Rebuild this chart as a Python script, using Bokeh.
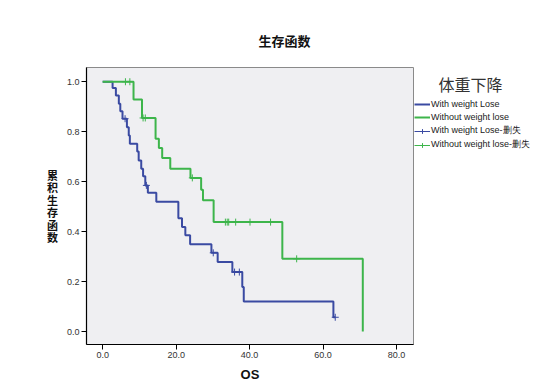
from bokeh.plotting import figure
from bokeh.layouts import row
from bokeh.models import Range1d, Legend, LegendItem, FixedTicker, NumeralTickFormatter
from bokeh.core.properties import value
from bokeh.embed import file_html
from bokeh.resources import INLINE

# Kaplan-Meier steps: with weight loss
lose_t = [0.0, 2.7, 3.6, 4.4, 4.8, 5.4, 6.6, 7.1, 7.4, 9.4, 9.8, 10.5, 11.0, 11.6, 12.3,
          14.6, 20.6, 21.6, 22.5, 23.8, 29.6, 31.3, 35.3, 38.0, 38.4, 62.8, 63.3]
lose_s = [1.0, 0.975, 0.945, 0.912, 0.882, 0.852, 0.818, 0.785, 0.752, 0.721, 0.685, 0.652,
          0.622, 0.585, 0.556, 0.520, 0.453, 0.418, 0.385, 0.349, 0.315, 0.278, 0.238,
          0.178, 0.120, 0.057, 0.057]
lose_cens_t = [6.1, 11.9, 30.1, 35.9, 37.2, 63.3]
lose_cens_s = [0.852, 0.585, 0.315, 0.238, 0.238, 0.057]

# Kaplan-Meier steps: without weight loss
keep_t = [0.0, 8.4, 10.7, 14.4, 15.3, 16.2, 18.4, 23.9, 26.8, 27.3, 30.2, 48.9, 70.8]
keep_s = [1.0, 0.929, 0.855, 0.772, 0.735, 0.695, 0.652, 0.615, 0.568, 0.526, 0.438, 0.291, 0.0]
keep_cens_t = [6.2, 7.4, 11.0, 11.6, 24.4, 33.4, 33.9, 34.3, 36.2, 40.1, 45.7, 52.8]
keep_cens_s = [1.0, 1.0, 0.855, 0.855, 0.615, 0.438, 0.438, 0.438, 0.438, 0.438, 0.438, 0.291]

x_ticks = [0, 20, 40, 60, 80]
y_ticks = [0.0, 0.2, 0.4, 0.6, 0.8, 1.0]

series_names = ["With weight Lose", "Without weight lose",
                "With weight Lose-删失", "Without weight lose-删失"]
title_text = "生存函数"
legend_title = "体重下降"
y_label = "累积生存函数"
x_label = "OS"

BLUE = "#3A4AA2"
GREEN = "#3DB54B"

W, H = 551, 386
FL, FR, FT, FB = 86, 413, 67, 344
MAIN_W = FR + 1
X0, X1 = -4.4, 84.6
Y0, Y1 = -0.052, 1.057

# ---- main survival plot ----
p = figure(width=MAIN_W, height=H, output_backend="svg", toolbar_location=None,
           x_range=Range1d(X0, X1), y_range=Range1d(Y0, Y1),
           min_border_left=FL, min_border_right=MAIN_W - FR,
           min_border_top=FT, min_border_bottom=H - FB)
p.background_fill_color = "#EFEFF2"
p.border_fill_color = "white"
p.outline_line_color = "#8a8a8a"
p.outline_line_width = 1
p.xgrid.visible = False
p.ygrid.visible = False

p.title.text = title_text
p.title.align = "left"
p.title.offset = 172
p.title.standoff = 36
p.title.text_font = "Noto Sans CJK SC"
p.title.text_font_style = "bold"
p.title.text_font_size = "13px"
p.title.text_color = "#111111"

for ax in (p.xaxis[0], p.yaxis[0]):
    ax.axis_line_color = "black"
    ax.axis_line_width = 1.2
    ax.major_tick_line_color = "black"
    ax.major_tick_in = 0
    ax.major_tick_out = 5
    ax.minor_tick_line_color = None
    ax.major_label_text_font = "Liberation Sans"
    ax.major_label_text_font_size = "9px"
    ax.major_label_text_color = "#333333"
    ax.major_label_standoff = 2

p.xaxis.ticker = FixedTicker(ticks=x_ticks)
p.yaxis.ticker = FixedTicker(ticks=y_ticks)
p.xaxis.formatter = NumeralTickFormatter(format="0.0")
p.yaxis.formatter = NumeralTickFormatter(format="0.0")
p.xaxis.axis_label = x_label
p.xaxis.axis_label_text_font = "Liberation Sans"
p.xaxis.axis_label_text_font_style = "bold"
p.xaxis.axis_label_text_font_size = "13px"
p.xaxis.axis_label_text_color = "#111111"
p.xaxis.axis_label_standoff = 6

# y caption stacked one character per line
p.yaxis.axis_label = "\n".join(y_label)
p.yaxis.axis_label_orientation = "horizontal"
p.yaxis.axis_label_text_font = "Noto Sans CJK SC"
p.yaxis.axis_label_text_font_style = "bold"
p.yaxis.axis_label_text_font_size = "11px"
p.yaxis.axis_label_text_line_height = 0.78
p.yaxis.axis_label_text_color = "#111111"
p.yaxis.axis_label_standoff = 6

p.step(lose_t, lose_s, mode="after", line_color=BLUE, line_width=2)
p.step(keep_t, keep_s, mode="after", line_color=GREEN, line_width=2)
p.scatter(lose_cens_t, lose_cens_s, marker="cross", size=7, line_color=BLUE, line_width=1)
p.scatter(keep_cens_t, keep_cens_s, marker="cross", size=7, line_color=GREEN, line_width=1)

# ---- legend panel: its frame lines up with the main frame (rows FT..FB),
# so the ranges below are page pixels, y downward ----
LW = W - MAIN_W
q = figure(width=LW, height=H, output_backend="svg", toolbar_location=None,
           x_range=Range1d(MAIN_W, W), y_range=Range1d(FB, FT),
           min_border=0, x_axis_location=None, y_axis_location=None)
q.outline_line_color = None
q.background_fill_color = "white"
q.border_fill_color = "white"
q.xgrid.visible = False
q.ygrid.visible = False

q.text(x=[470], y=[83], text=[legend_title], text_align="center",
       text_baseline="middle", text_font=value("Noto Sans CJK SC"),
       text_font_size="16px", text_color="#333333")

# legend samples: the same series, which fall outside this panel's pixel range
s_lose = q.step(lose_t, lose_s, mode="after", line_color=BLUE, line_width=2)
s_keep = q.step(keep_t, keep_s, mode="after", line_color=GREEN, line_width=2)
l_lose = q.line(lose_cens_t, lose_cens_s, line_color=BLUE, line_width=1)
l_keep = q.line(keep_cens_t, keep_cens_s, line_color=GREEN, line_width=1)
m_lose = q.scatter(lose_cens_t, lose_cens_s, marker="cross", line_color=BLUE, line_width=1)
m_keep = q.scatter(keep_cens_t, keep_cens_s, marker="cross", line_color=GREEN, line_width=1)

legend = Legend(items=[
    LegendItem(label=series_names[0], renderers=[s_lose]),
    LegendItem(label=series_names[1], renderers=[s_keep]),
    LegendItem(label=series_names[2], renderers=[l_lose, m_lose]),
    LegendItem(label=series_names[3], renderers=[l_keep, m_keep]),
])
legend.label_text_font = "Liberation Sans"
legend.label_text_font_size = "9px"
legend.label_text_color = "#222222"
legend.border_line_color = None
legend.background_fill_alpha = 0
legend.padding = 0
legend.margin = 0
legend.glyph_width = 16
legend.glyph_height = 12
legend.label_height = 12
legend.label_standoff = 1
legend.spacing = 1
legend.location = (0, FB - 100 - 51)
q.add_layout(legend, "center")

layout = row(p, q, spacing=0)
open("out.html", "w").write(file_html(layout, INLINE))
